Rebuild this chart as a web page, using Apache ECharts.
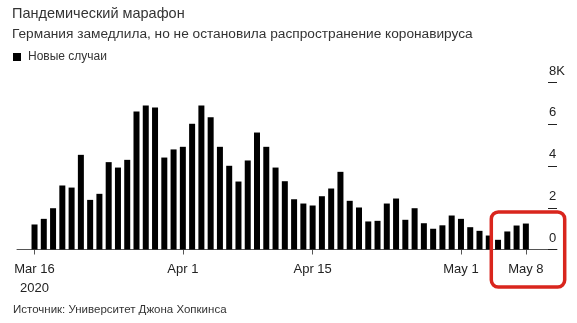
<!DOCTYPE html>
<html>
<head>
<meta charset="utf-8">
<script src="https://cdn.jsdelivr.net/npm/echarts@6/dist/echarts.min.js"></script>
<style>
  html, body { margin: 0; padding: 0; background: #fff; }
  #chart { width: 577px; height: 323px; }
</style>
</head>
<body>
<div id="chart"></div>
<script>
// ---- data ----
const dates = [
  '2020-03-16','2020-03-17','2020-03-18','2020-03-19','2020-03-20','2020-03-21','2020-03-22','2020-03-23',
  '2020-03-24','2020-03-25','2020-03-26','2020-03-27','2020-03-28','2020-03-29','2020-03-30','2020-03-31',
  '2020-04-01','2020-04-02','2020-04-03','2020-04-04','2020-04-05','2020-04-06','2020-04-07','2020-04-08',
  '2020-04-09','2020-04-10','2020-04-11','2020-04-12','2020-04-13','2020-04-14','2020-04-15','2020-04-16',
  '2020-04-17','2020-04-18','2020-04-19','2020-04-20','2020-04-21','2020-04-22','2020-04-23','2020-04-24',
  '2020-04-25','2020-04-26','2020-04-27','2020-04-28','2020-04-29','2020-04-30','2020-05-01','2020-05-02',
  '2020-05-03','2020-05-04','2020-05-05','2020-05-06','2020-05-07','2020-05-08'
];
const newCases = [
  1200, 1470, 1980, 3070, 2970, 4540, 2380, 2670,
  4190, 3930, 4300, 6620, 6910, 6810, 4410, 4800,
  4925, 6030, 6910, 6345, 4925, 4015, 3260, 4270,
  5610, 4925, 3930, 3275, 2410, 2205, 2110, 2555,
  2925, 3725, 2335, 2015, 1345, 1375, 2205, 2445,
  1425, 1980, 1260, 995, 1160, 1630, 1470, 1070,
  895, 670, 465, 865, 1150, 1245
];
const tickDates = ['2020-03-16', '2020-04-01', '2020-04-15', '2020-05-01', '2020-05-08'];
const tickLabels = ['Mar 16\n2020', 'Apr 1', 'Apr 15', 'May 1', 'May 8'];
const yTickValues = [0, 2000, 4000, 6000, 8000];
const yTickLabels = ['0', '2', '4', '6', '8K'];
const seriesName = 'Новые случаи';
const titleText = 'Пандемический марафон';
const subtitleText = 'Германия замедлила, но не остановила распространение коронавируса';
const sourceText = 'Источник: Университет Джона Хопкинса';

// ---- build (x = day index from first date) ----
const tickIdx = tickDates.map(d => dates.indexOf(d));
const barData = dates.map((d, i) => [i, newCases[i]]);

const FONT = '"Liberation Sans", Arial, sans-serif';
const chart = echarts.init(document.getElementById('chart'), null, { renderer: 'canvas' });

chart.setOption({
  animation: false,
  backgroundColor: '#ffffff',
  textStyle: { fontFamily: FONT },
  title: [
    { text: titleText, left: 12, top: 6, padding: 0,
      textStyle: { fontFamily: FONT, fontSize: 14.5, fontWeight: 'normal', color: '#333' } },
    { text: subtitleText, left: 12, top: 27, padding: 0,
      textStyle: { fontFamily: FONT, fontSize: 13.7, fontWeight: 'normal', color: '#333' } },
    { text: sourceText, left: 13, top: 304, padding: 0,
      textStyle: { fontFamily: FONT, fontSize: 11.5, fontWeight: 'normal', color: '#333' } }
  ],
  legend: {
    data: [seriesName],
    left: 13, top: 51, padding: 0,
    icon: 'rect', itemWidth: 8, itemHeight: 8, itemGap: 10,
    textStyle: { fontFamily: FONT, fontSize: 12, color: '#333', padding: [0, 0, 0, 2] }
  },
  grid: { left: 17, right: 20, top: 82.7, bottom: 73.5, containLabel: false, outerBoundsMode: 'none' },
  xAxis: {
    type: 'value',
    min: -1.89,
    max: 56.36,
    axisLine: { show: true, onZero: false, lineStyle: { color: '#555', width: 1 } },
    axisTick: { show: true, length: 5, lineStyle: { color: '#555' }, customValues: tickIdx },
    axisLabel: {
      customValues: tickIdx,
      formatter: function (v) {
        const i = tickIdx.indexOf(Math.round(v));
        return i >= 0 ? tickLabels[i] : '';
      },
      fontFamily: FONT, fontSize: 13, color: '#222', lineHeight: 19, margin: 10,
      hideOverlap: false
    },
    splitLine: { show: false }
  },
  yAxis: {
    type: 'value',
    position: 'right',
    offset: -9,
    min: 0, max: 8000, interval: 2000,
    axisLine: { show: false, onZero: false },
    axisTick: { show: true, inside: false, length: 9, lineStyle: { color: '#222' } },
    splitLine: { show: false },
    axisLabel: {
      inside: false, margin: 1, align: 'left', verticalAlign: 'bottom', lineHeight: 23,
      fontFamily: FONT, fontSize: 13, color: '#222',
      formatter: function (v) {
        const i = yTickValues.indexOf(v);
        return i >= 0 ? yTickLabels[i] : '';
      }
    }
  },
  series: [{
    name: seriesName,
    type: 'bar',
    data: barData,
    barWidth: 6,
    itemStyle: { color: '#000' }
  }],
  graphic: [{
    type: 'rect',
    shape: { x: 491.3, y: 212, width: 73.4, height: 75, r: 7 },
    style: { fill: 'none', stroke: '#d9251d', lineWidth: 3.5 },
    z: 100
  }]
});
</script>
</body>
</html>
